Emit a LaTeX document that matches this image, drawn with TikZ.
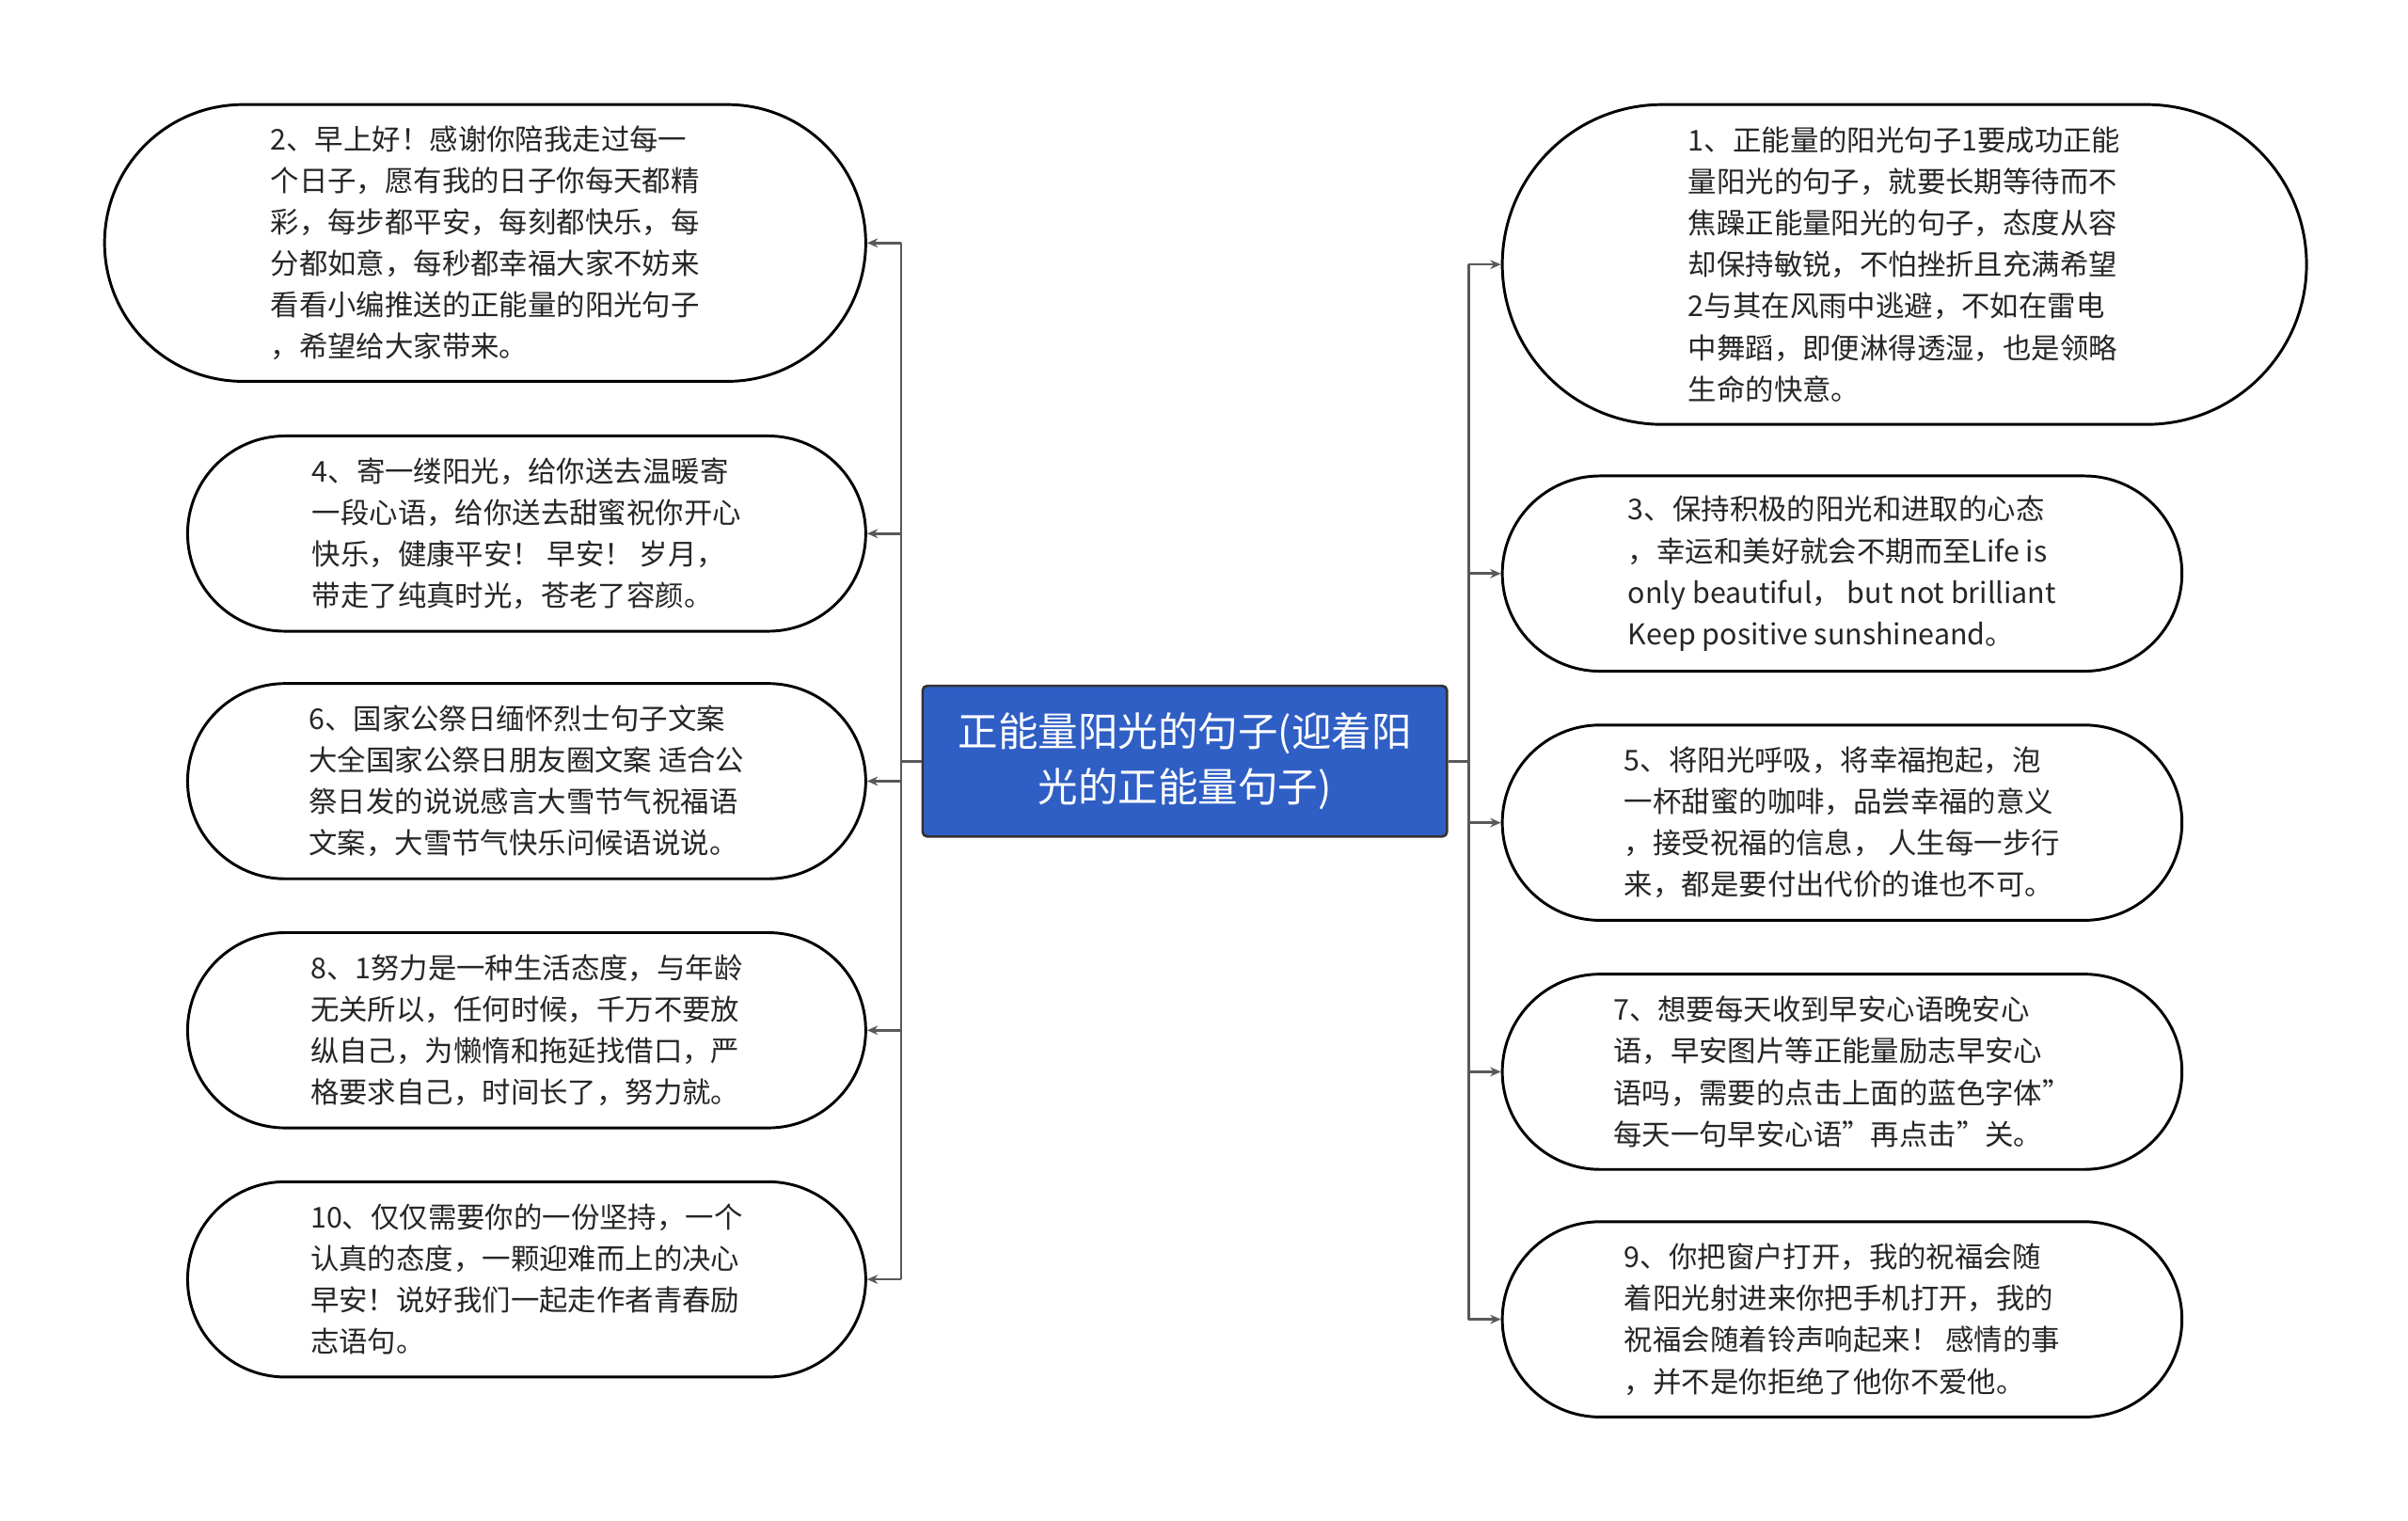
\documentclass[tikz,border=0pt]{standalone}
\usepackage{fontspec}
\setmainfont{Noto Sans CJK SC}
\usetikzlibrary{shapes.misc,arrows.meta}
\definecolor{cblue}{RGB}{47,95,196}
\newcommand{\dq}{\symbol{34}}
\begin{document}
\begin{tikzpicture}[x=1pt,y=-1pt,
 leaf/.style={draw=black,line width=1.8pt,rounded rectangle,fill=white,align=left,inner sep=0pt,
   font=\fontsize{18.6}{27}\selectfont,text=black!85},
 conn/.style={draw=black!65,line width=1.6pt,-{Stealth[length=7pt,width=6pt]}},
 trunk/.style={draw=black!65,line width=1.6pt}]
\useasboundingbox (0,0) rectangle (1566,989);
\node[draw=black!80,line width=1.6pt,fill=cblue,rounded corners=3pt,minimum width=341pt,minimum height=98pt,align=center,
  font=\fontsize{26}{36}\selectfont,text=white] (c) at (770.5,495) {正能量阳光的句子(迎着阳\\光的正能量句子)};
% left
\node[leaf,minimum width=495pt,minimum height=180pt] (l1) at (315.5,158) {2、早上好！感谢你陪我走过每一\\个日子，愿有我的日子你每天都精\\彩，每步都平安，每刻都快乐，每\\分都如意，每秒都幸福大家不妨来\\看看小编推送的正能量的阳光句子\\，希望给大家带来。};
\node[leaf,minimum width=441pt,minimum height=127pt] (l2) at (342.5,347) {4、寄一缕阳光，给你送去温暖寄\\一段心语，给你送去甜蜜祝你开心\\快乐，健康平安！ 早安！ 岁月，\\带走了纯真时光，苍老了容颜。};
\node[leaf,minimum width=441pt,minimum height=127pt] (l3) at (342.5,508) {6、国家公祭日缅怀烈士句子文案\\大全国家公祭日朋友圈文案 适合公\\祭日发的说说感言大雪节气祝福语\\文案，大雪节气快乐问候语说说。};
\node[leaf,minimum width=441pt,minimum height=127pt] (l4) at (342.5,670) {8、1努力是一种生活态度，与年龄\\无关所以，任何时候，千万不要放\\纵自己，为懒惰和拖延找借口，严\\格要求自己，时间长了，努力就。};
\node[leaf,minimum width=441pt,minimum height=127pt] (l5) at (342.5,832) {10、仅仅需要你的一份坚持，一个\\认真的态度，一颗迎难而上的决心\\早安！说好我们一起走作者青春励\\志语句。};
% right
\node[leaf,minimum width=523pt,minimum height=208pt] (r1) at (1238.5,172) {1、正能量的阳光句子1要成功正能\\量阳光的句子，就要长期等待而不\\焦躁正能量阳光的句子，态度从容\\却保持敏锐，不怕挫折且充满希望\\2与其在风雨中逃避，不如在雷电\\中舞蹈，即便淋得透湿，也是领略\\生命的快意。};
\node[leaf,minimum width=442pt,minimum height=127pt] (r2) at (1198,373) {3、保持积极的阳光和进取的心态\\，幸运和美好就会不期而至Life is\\only beautiful， but not brilliant\\ Keep positive sunshineand。};
\node[leaf,minimum width=442pt,minimum height=127pt] (r3) at (1198,535) {5、将阳光呼吸，将幸福抱起，泡\\一杯甜蜜的咖啡，品尝幸福的意义\\，接受祝福的信息， 人生每一步行\\来，都是要付出代价的谁也不可。};
\node[leaf,minimum width=442pt,minimum height=127pt] (r4) at (1198,697) {7、想要每天收到早安心语晚安心\\语，早安图片等正能量励志早安心\\语吗，需要的点击上面的蓝色字体\dq\\每天一句早安心语\dq 再点击\dq 关。};
\node[leaf,minimum width=442pt,minimum height=127pt] (r5) at (1198,858) {9、你把窗户打开，我的祝福会随\\着阳光射进来你把手机打开，我的\\祝福会随着铃声响起来！ 感情的事\\，并不是你拒绝了他你不爱他。};
\coordinate (tl) at (586,495);
\coordinate (tr) at (955,495);
\draw[trunk] (c.west) -- (tl);
\draw[trunk] (c.east) -- (tr);
\draw[trunk] (586,158) -- (586,832);
\draw[trunk] (955,172) -- (955,858);
\foreach \n in {l1,l2,l3,l4,l5} \draw[conn] (586,0 |- \n.east) -- (\n.east);
\foreach \n in {r1,r2,r3,r4,r5} \draw[conn] (955,0 |- \n.west) -- (\n.west);
\end{tikzpicture}
\end{document}
